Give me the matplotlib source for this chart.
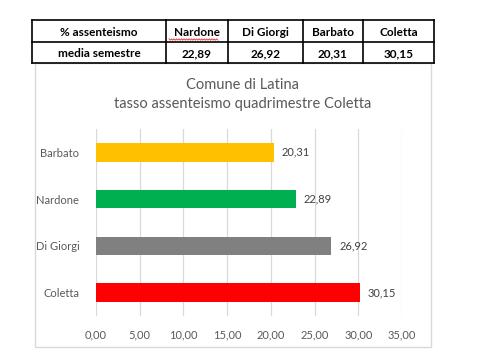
import numpy as np
import matplotlib.pyplot as plt
from matplotlib.patches import Rectangle
from matplotlib.lines import Line2D

# data
names = ['Coletta', 'Di Giorgi', 'Nardone', 'Barbato']
values = [30.15, 26.92, 22.89, 20.31]
bar_colors = ['#FF0000', '#808080', '#00B050', '#FFC000']
table_header = ['% assenteismo', 'Nardone', 'Di Giorgi', 'Barbato', 'Coletta']
table_row = ['media semestre', '22,89', '26,92', '20,31', '30,15']
xticks = [0, 5, 10, 15, 20, 25, 30, 35]

plt.rcParams['font.family'] = ['Lato', 'DejaVu Sans']
W, H = 485, 356
fig = plt.figure(figsize=(W / 100, H / 100), dpi=100)

def fx(px):
  return px / W

def fy(py):
  return 1 - py / H

### chart frame ###
fig.add_artist(Rectangle((fx(35), fy(347)), fx(431) - fx(35), fy(63) - fy(347),
                         transform=fig.transFigure, fill=False, edgecolor='#D9D9D9', lw=1))

### title ###
fig.text(0.5, fy(85), 'Comune di Latina', ha='center', va='center', fontsize=10.5, color='#595959')
fig.text(0.5, fy(104), 'tasso assenteismo quadrimestre Coletta', ha='center', va='center',
         fontsize=10.5, color='#595959')

### bars ###
ax = fig.add_axes([fx(96), fy(316), fx(402) - fx(96), fy(129) - fy(316)])
y = np.arange(len(names))
ax.barh(y, values, height=0.4, color=bar_colors, zorder=3)
for yi, v in zip(y, values):
  ax.text(v + 0.9, yi, f'{v:.2f}'.replace('.', ','), va='center', ha='left',
          fontsize=8, color='#404040')
ax.set_xlim(0, 35)
ax.set_ylim(-0.5, len(names) - 0.5)
ax.set_xticks(xticks)
ax.set_xticklabels([f'{t:.2f}'.replace('.', ',') for t in xticks])
ax.set_yticks(y)
ax.set_yticklabels(names)
ax.tick_params(length=0, labelsize=8, labelcolor='#595959')
ax.tick_params(axis='x', pad=10)
ax.tick_params(axis='y', pad=12)
ax.grid(axis='x', color='#D9D9D9', lw=0.9, zorder=0)
for s in ax.spines.values():
  s.set_visible(False)

### table ###
cols = [32, 166, 228, 303, 363, 434]
rows = [20, 42, 63]
for cx in cols:
  fig.add_artist(Line2D([fx(cx), fx(cx)], [fy(rows[0]), fy(rows[-1])], color='black', lw=1.2))
for ry in rows:
  fig.add_artist(Line2D([fx(cols[0]), fx(cols[-1])], [fy(ry), fy(ry)], color='black', lw=1.2))
for r, rowvals in enumerate([table_header, table_row]):
  for c, txt in enumerate(rowvals):
    fig.text(fx((cols[c] + cols[c + 1]) / 2), fy((rows[r] + rows[r + 1]) / 2 + 1), txt,
             ha='center', va='center', fontsize=8.5, fontweight='bold', color='black')

# spell check squiggle under Nardone
sx = np.linspace(169, 218, 40)
sy = 39.5 + np.where(np.arange(40) % 2 == 0, -0.7, 0.7)
fig.add_artist(Line2D(fx(sx), fy(sy), color='#E03030', lw=0.6))

fig.savefig('out.png', dpi=100)
